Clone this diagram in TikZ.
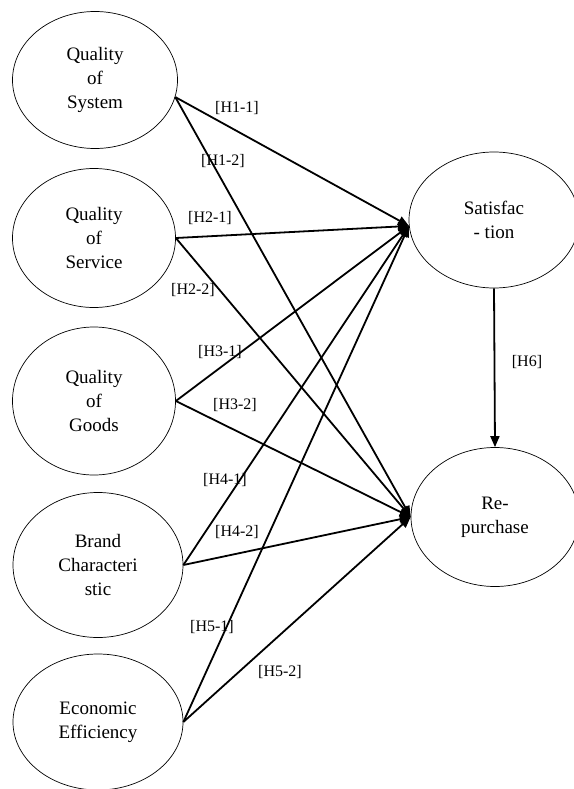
\documentclass[tikz,border=0pt]{standalone}
\usepackage{fontspec}
\setmainfont{Liberation Serif}
\usetikzlibrary{arrows.meta,shapes.geometric}

\tikzset{
  construct/.style={draw,ellipse,line width=0.7pt,inner sep=0pt,align=center,
    font=\fontsize{19}{24}\selectfont},
  hyp/.style={line width=1.8pt,-{Triangle[length=11pt,width=9pt]}},
  hlabel/.style={inner sep=0pt,font=\fontsize{16}{18}\selectfont}
}

\begin{document}
\begin{tikzpicture}[x=1pt,y=-1pt]
  \useasboundingbox (0,0) rectangle (573,789);

  % constructs on the left
  \node[construct,minimum width=165pt,minimum height=137pt] (sys) at (95,80) {Quality\\of\\System};
  \node[construct,minimum width=163pt,minimum height=139pt] (svc) at (94,238) {Quality\\of\\Service};
  \node[construct,minimum width=163pt,minimum height=148pt] (gds) at (94,401) {Quality\\of\\Goods};
  \node[construct,minimum width=170pt,minimum height=145pt] (brd) at (98,565) {Brand\\Characteri\\stic};
  \node[construct,minimum width=170pt,minimum height=136pt] (eco) at (98,722) {Economic\\Efficiency};

  % outcomes on the right
  \node[construct,minimum width=170pt,minimum height=136pt] (sat) at (494,220) {Satisfac\\- tion};
  \node[construct,minimum width=168pt,minimum height=139pt] (rep) at (495,517) {Re-\\purchase};

  % hypotheses
  \draw[hyp] (sys.-12) -- (sat.184);
  \draw[hyp] (sys.-12) -- (rep.west);
  \draw[hyp] (svc.east) -- (sat.184);
  \draw[hyp] (svc.east) -- (rep.west);
  \draw[hyp] (gds.east) -- (sat.184);
  \draw[hyp] (gds.east) -- (rep.west);
  \draw[hyp] (brd.east) -- (sat.184);
  \draw[hyp] (brd.east) -- (rep.west);
  \draw[hyp] (eco.east) -- (sat.184);
  \draw[hyp] (eco.east) -- (rep.west);
  \draw[hyp] (sat.south) -- (rep.north);

  \node[hlabel] (h11) at (237,108) {[H1-1]};
  \node[hlabel] (h12) at (223,161) {[H1-2]};
  \node[hlabel] (h21) at (210,218) {[H2-1]};
  \node[hlabel] (h22) at (193,290) {[H2-2]};
  \node[hlabel] (h31) at (220,352) {[H3-1]};
  \node[hlabel] (h32) at (235,405) {[H3-2]};
  \node[hlabel] (h41) at (225,480) {[H4-1]};
  \node[hlabel] (h42) at (237,532) {[H4-2]};
  \node[hlabel] (h51) at (212,627) {[H5-1]};
  \node[hlabel] (h52) at (280,672) {[H5-2]};
  \node[hlabel] (h6) at (527,362) {[H6]};
\end{tikzpicture}
\end{document}
